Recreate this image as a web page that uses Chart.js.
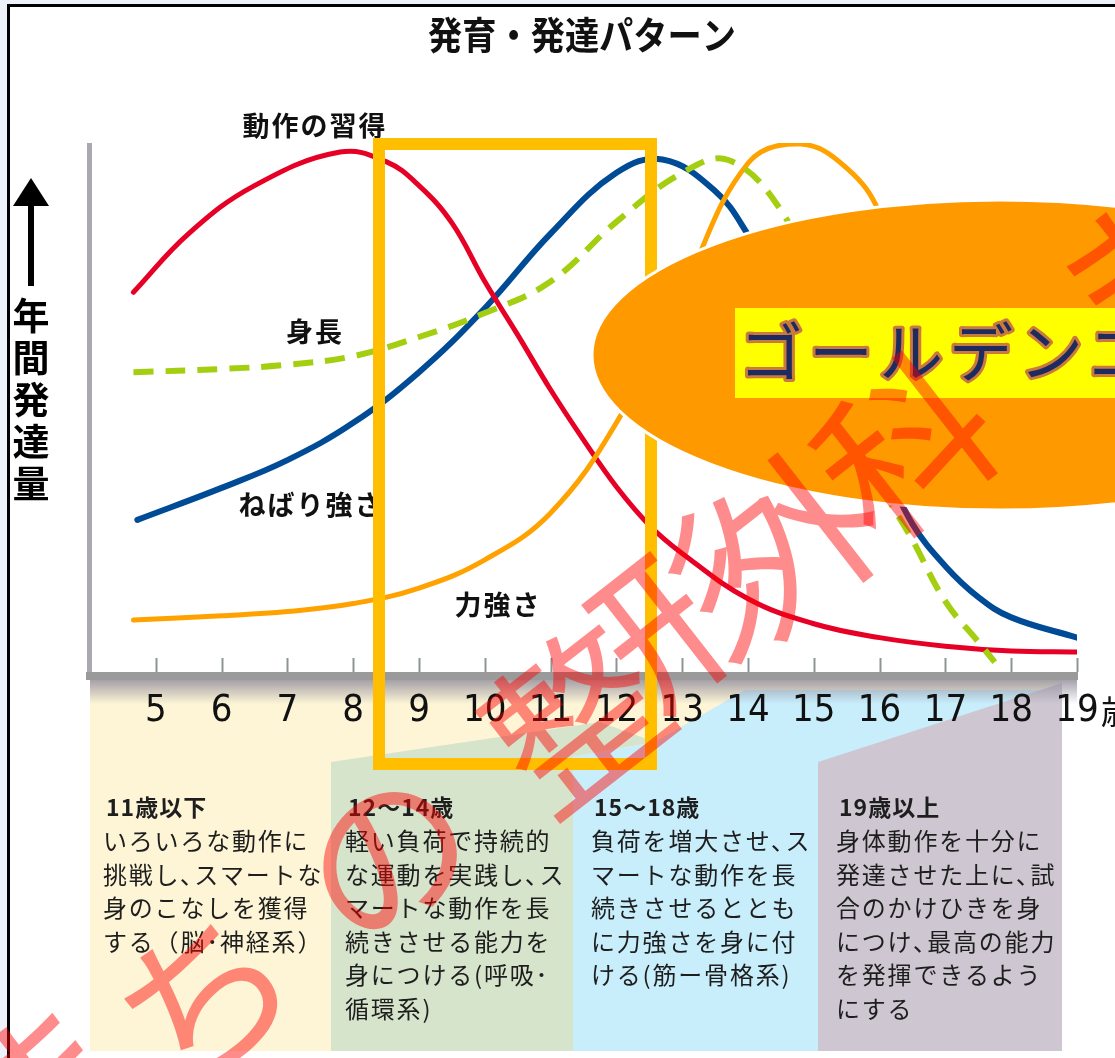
<!DOCTYPE html>
<html lang="ja">
<head>
<meta charset="utf-8">
<title>発育・発達パターン</title>
<script src="https://cdn.jsdelivr.net/npm/chart.js@4.4.1/dist/chart.umd.min.js"></script>
<style>
  html, body { margin: 0; padding: 0; background: #fff; }
  canvas { display: block; }
</style>
</head>
<body>
<canvas id="chart" width="1115" height="1058"></canvas>
<script>
const JP = "'Noto Sans CJK JP', 'Noto Sans', sans-serif"
const NUM = "'Liberation Sans Narrow', 'DejaVu Sans Condensed', 'Liberation Sans', sans-serif"

// x axis: age in years
const ageTicks = [5, 6, 7, 8, 9, 10, 11, 12, 13, 14, 15, 16, 17, 18, 19]

// 動作の習得 (red)
const motorYears = [4.66, 5.5, 6.5, 7.8, 8.5, 9, 9.5, 10, 10.5, 11, 11.5, 12, 12.5, 13, 14, 15, 16, 17, 18, 19]
const motorValues = [72, 83, 92, 98.3, 96.5, 92, 85, 74, 64, 53.7, 44.3, 35.5, 28.3, 23, 14.5, 9.8, 7.2, 5.6, 4.7, 4.5]

// ねばり強さ (blue)
const staminaYears = [4.72, 6, 7, 8, 9, 10, 11, 12, 12.7, 13.5, 14, 15, 16, 16.5, 17, 17.5, 18, 19]
const staminaValues = [29.3, 35.3, 40.5, 47.5, 57, 69, 83, 94.4, 96.9, 91, 82.8, 62, 41, 28.5, 20.6, 14.8, 11, 7.2]

// 身長 (green, dashed)
const heightYears = [4.66, 6, 7, 8, 9, 10, 11, 12, 13, 13.7, 14.5, 15, 15.5, 16, 16.5, 17, 17.5, 17.75]
const heightValues = [57, 57.6, 58.4, 60, 63.6, 68.1, 74, 85.2, 94.4, 96.8, 87.4, 73, 55, 36.6, 25.5, 14, 6.4, 2.6]

// 力強さ (orange)
const strengthYears = [4.66, 6, 7, 8, 9, 10, 11, 12, 13, 14, 14.8, 15.5, 16, 16.4]
const strengthValues = [10.5, 11.3, 12.1, 13.6, 16.5, 21.8, 30.6, 47.5, 72, 96.2, 99.8, 95.3, 86.9, 70.5]

const panelHeads = ['11歳以下', '12〜14歳', '15〜18歳', '19歳以上']
const panelLines = [
  ['いろいろな動作に', '挑戦し､スマートな', '身のこなしを獲得', 'する（脳･神経系）'],
  ['軽い負荷で持続的', 'な運動を実践し､ス', 'マートな動作を長', '続きさせる能力を', '身につける(呼吸･', '循環系)'],
  ['負荷を増大させ､ス', 'マートな動作を長', '続きさせるととも', 'に力強さを身に付', 'ける(筋ー骨格系)'],
  ['身体動作を十分に', '発達させた上に､試', '合のかけひきを身', 'につけ､最高の能力', 'を発揮できるよう', 'にする']
]

const toPoints = (xs, ys) => xs.map((x, i) => ({ x: x, y: ys[i] }))

function poly (ctx, pts, color) {
  ctx.beginPath()
  pts.forEach((p, i) => i ? ctx.lineTo(p[0], p[1]) : ctx.moveTo(p[0], p[1]))
  ctx.closePath()
  ctx.fillStyle = color
  ctx.fill()
}

const decorations = {
  id: 'decorations',
  beforeDraw (chart) {
    const ctx = chart.ctx
    const W = chart.width
    const H = chart.height
    const area = chart.chartArea
    ctx.save()
    ctx.fillStyle = '#fff'
    ctx.fillRect(0, 0, W, H)

    // outside of the frame
    ctx.fillStyle = '#edf2fa'
    ctx.fillRect(0, 0, W, 4)
    ctx.fillRect(0, 0, 7, H)
    ctx.fillStyle = '#000'
    ctx.fillRect(7, 4, W - 7, 3)
    ctx.fillRect(7, 4, 3, H - 4)

    // age panels under the axis
    poly(ctx, [[90, 680], [1062, 680], [1062, 1051], [90, 1051]], '#fdf5d6')
    poly(ctx, [[331, 1051], [331, 762], [600, 722], [655, 742], [573, 757], [573, 1051]], '#d7e4cc')
    poly(ctx, [[573, 1051], [573, 757], [655, 742], [745, 690], [1062, 690], [1062, 1051]], '#c8eefc')
    poly(ctx, [[818, 1051], [818, 762], [1062, 683], [1062, 1051]], '#cec7d2')
    const g = ctx.createLinearGradient(0, 680, 0, 704)
    g.addColorStop(0, 'rgba(150,146,160,0.85)')
    g.addColorStop(1, 'rgba(150,146,160,0)')
    ctx.fillStyle = g
    ctx.fillRect(90, 680, 987, 24)

    // panel texts
    const xs = [103, 345, 591, 836]
    ctx.fillStyle = '#1e1e1e'
    ctx.textBaseline = 'middle'
    ctx.textAlign = 'left'
    xs.forEach((x, i) => {
      ctx.font = 'bold 23px ' + JP
      ctx.letterSpacing = '1px'
      ctx.fillText(panelHeads[i], x + 3, 807)
      ctx.font = '24px ' + JP
      ctx.letterSpacing = '1.8px'
      panelLines[i].forEach((line, j) => ctx.fillText(line, x, 841 + j * 33.5))
    })
    ctx.letterSpacing = '0px'

    // title
    ctx.save()
    ctx.translate(582, 35)
    ctx.scale(0.9, 1)
    ctx.font = 'bold 38px ' + JP
    ctx.textAlign = 'center'
    ctx.fillStyle = '#111'
    ctx.fillText('発育・発達パターン', 0, 0)
    ctx.restore()

    // y label with arrow
    ctx.fillStyle = '#000'
    ctx.fillRect(28, 203, 6, 83)
    ctx.beginPath()
    ctx.moveTo(31, 178)
    ctx.lineTo(13, 206)
    ctx.lineTo(49, 206)
    ctx.closePath()
    ctx.fill()
    ctx.font = 'bold 37px ' + JP
    ctx.textAlign = 'center'
    Array.from('年間発達量').forEach((c, i) => ctx.fillText(c, 31, 316 + i * 42))

    // y axis line
    ctx.fillStyle = '#a9a9b2'
    ctx.fillRect(area.left - 3, area.top, 5, area.bottom - area.top)
    ctx.restore()
  },
  afterDatasetsDraw (chart) {
    const ctx = chart.ctx
    const xs = chart.scales.x
    const area = chart.chartArea
    ctx.save()
    ctx.strokeStyle = '#8c9494'
    ctx.lineWidth = 2
    xs.ticks.forEach(t => {
      const px = Math.round(xs.getPixelForValue(t.value)) + 0.5
      ctx.beginPath()
      ctx.moveTo(px, area.bottom - 18)
      ctx.lineTo(px, area.bottom - 4)
      ctx.stroke()
    })

    ctx.fillStyle = '#111'
    ctx.textAlign = 'center'
    ctx.textBaseline = 'middle'
    ctx.font = 'bold 27px ' + JP
    ctx.letterSpacing = '2px'
    ctx.fillText('動作の習得', 315, 126)
    ctx.fillText('身長', 315, 332)
    ctx.fillText('ねばり強さ', 311, 505)
    ctx.fillText('力強さ', 498, 605)
    ctx.letterSpacing = '0px'
    ctx.restore()
  },
  afterDraw (chart) {
    const ctx = chart.ctx
    const xs = chart.scales.x
    ctx.save()

    // "歳" after the last tick
    ctx.font = '38px ' + NUM
    const w19 = ctx.measureText('19').width
    ctx.font = '34px ' + JP
    ctx.fillStyle = '#111'
    ctx.textBaseline = 'middle'
    ctx.fillText('歳', xs.getPixelForValue(19) + w19 / 2 + 2, 711)

    // highlighted age range
    ctx.strokeStyle = '#ffbf00'
    ctx.lineWidth = 12
    ctx.strokeRect(379, 144, 272, 620)

    // golden age ellipse
    ctx.beginPath()
    ctx.ellipse(1000, 355, 408, 155, 0, 0, Math.PI * 2)
    ctx.fillStyle = '#ff9900'
    ctx.fill()
    ctx.strokeStyle = '#fff'
    ctx.lineWidth = 3
    ctx.stroke()

    ctx.fillStyle = '#ffff00'
    ctx.fillRect(735, 308, 400, 90)
    ctx.font = '64px ' + JP
    ctx.letterSpacing = '6px'
    ctx.textAlign = 'left'
    ctx.textBaseline = 'middle'
    ctx.lineJoin = 'round'
    ctx.strokeStyle = '#c97a3c'
    ctx.lineWidth = 6
    ctx.strokeText('ゴールデンエイジ', 739, 352)
    ctx.fillStyle = '#1d2b5e'
    ctx.fillText('ゴールデンエイジ', 739, 352)
    ctx.letterSpacing = '0px'

    // watermark
    const marks = [['ま', 40, 1090], ['ち', 205, 995], ['の', 385, 855], ['整', 575, 718],
      ['形', 682, 612], ['外', 792, 540], ['科', 905, 447], ['ま', 1140, 275]]
    ctx.font = '170px ' + JP
    ctx.textAlign = 'center'
    ctx.fillStyle = 'rgba(255,0,0,0.45)'
    marks.forEach(m => {
      ctx.save()
      ctx.translate(m[1], m[2])
      ctx.rotate(-38 * Math.PI / 180)
      ctx.fillText(m[0], 0, 0)
      ctx.restore()
    })
    ctx.restore()
  }
}

new Chart(document.getElementById('chart'), {
  type: 'line',
  data: {
    datasets: [
      {
        label: '身長',
        data: toPoints(heightYears, heightValues),
        borderColor: '#a4cf10',
        borderWidth: 6,
        borderDash: [20, 12]
      },
      {
        label: '力強さ',
        data: toPoints(strengthYears, strengthValues),
        borderColor: '#ffa200',
        borderWidth: 5,
        borderCapStyle: 'round'
      },
      {
        label: '動作の習得',
        data: toPoints(motorYears, motorValues),
        borderColor: '#e60026',
        borderWidth: 5,
        borderCapStyle: 'round'
      },
      {
        label: 'ねばり強さ',
        data: toPoints(staminaYears, staminaValues),
        borderColor: '#004b96',
        borderWidth: 6,
        borderCapStyle: 'round'
      }
    ]
  },
  options: {
    responsive: false,
    animation: false,
    layout: {
      padding: { left: 90, right: 38, top: 143, bottom: 322 }
    },
    elements: {
      point: { radius: 0 },
      line: { tension: 0.4, fill: false }
    },
    scales: {
      x: {
        type: 'linear',
        min: 4,
        max: 19,
        afterBuildTicks: scale => { scale.ticks = ageTicks.map(v => ({ value: v })) },
        afterFit: scale => { scale.height = 60 },
        grid: { display: false, drawTicks: false },
        border: { display: true, color: '#9a9a9a', width: 8 },
        ticks: {
          autoSkip: false,
          maxRotation: 0,
          padding: 12,
          color: '#111',
          font: { family: NUM, size: 38 }
        }
      },
      y: {
        display: false,
        min: 0,
        max: 100
      }
    },
    plugins: {
      legend: { display: false },
      tooltip: { enabled: false },
      title: { display: false }
    }
  },
  plugins: [decorations]
})
</script>
</body>
</html>
